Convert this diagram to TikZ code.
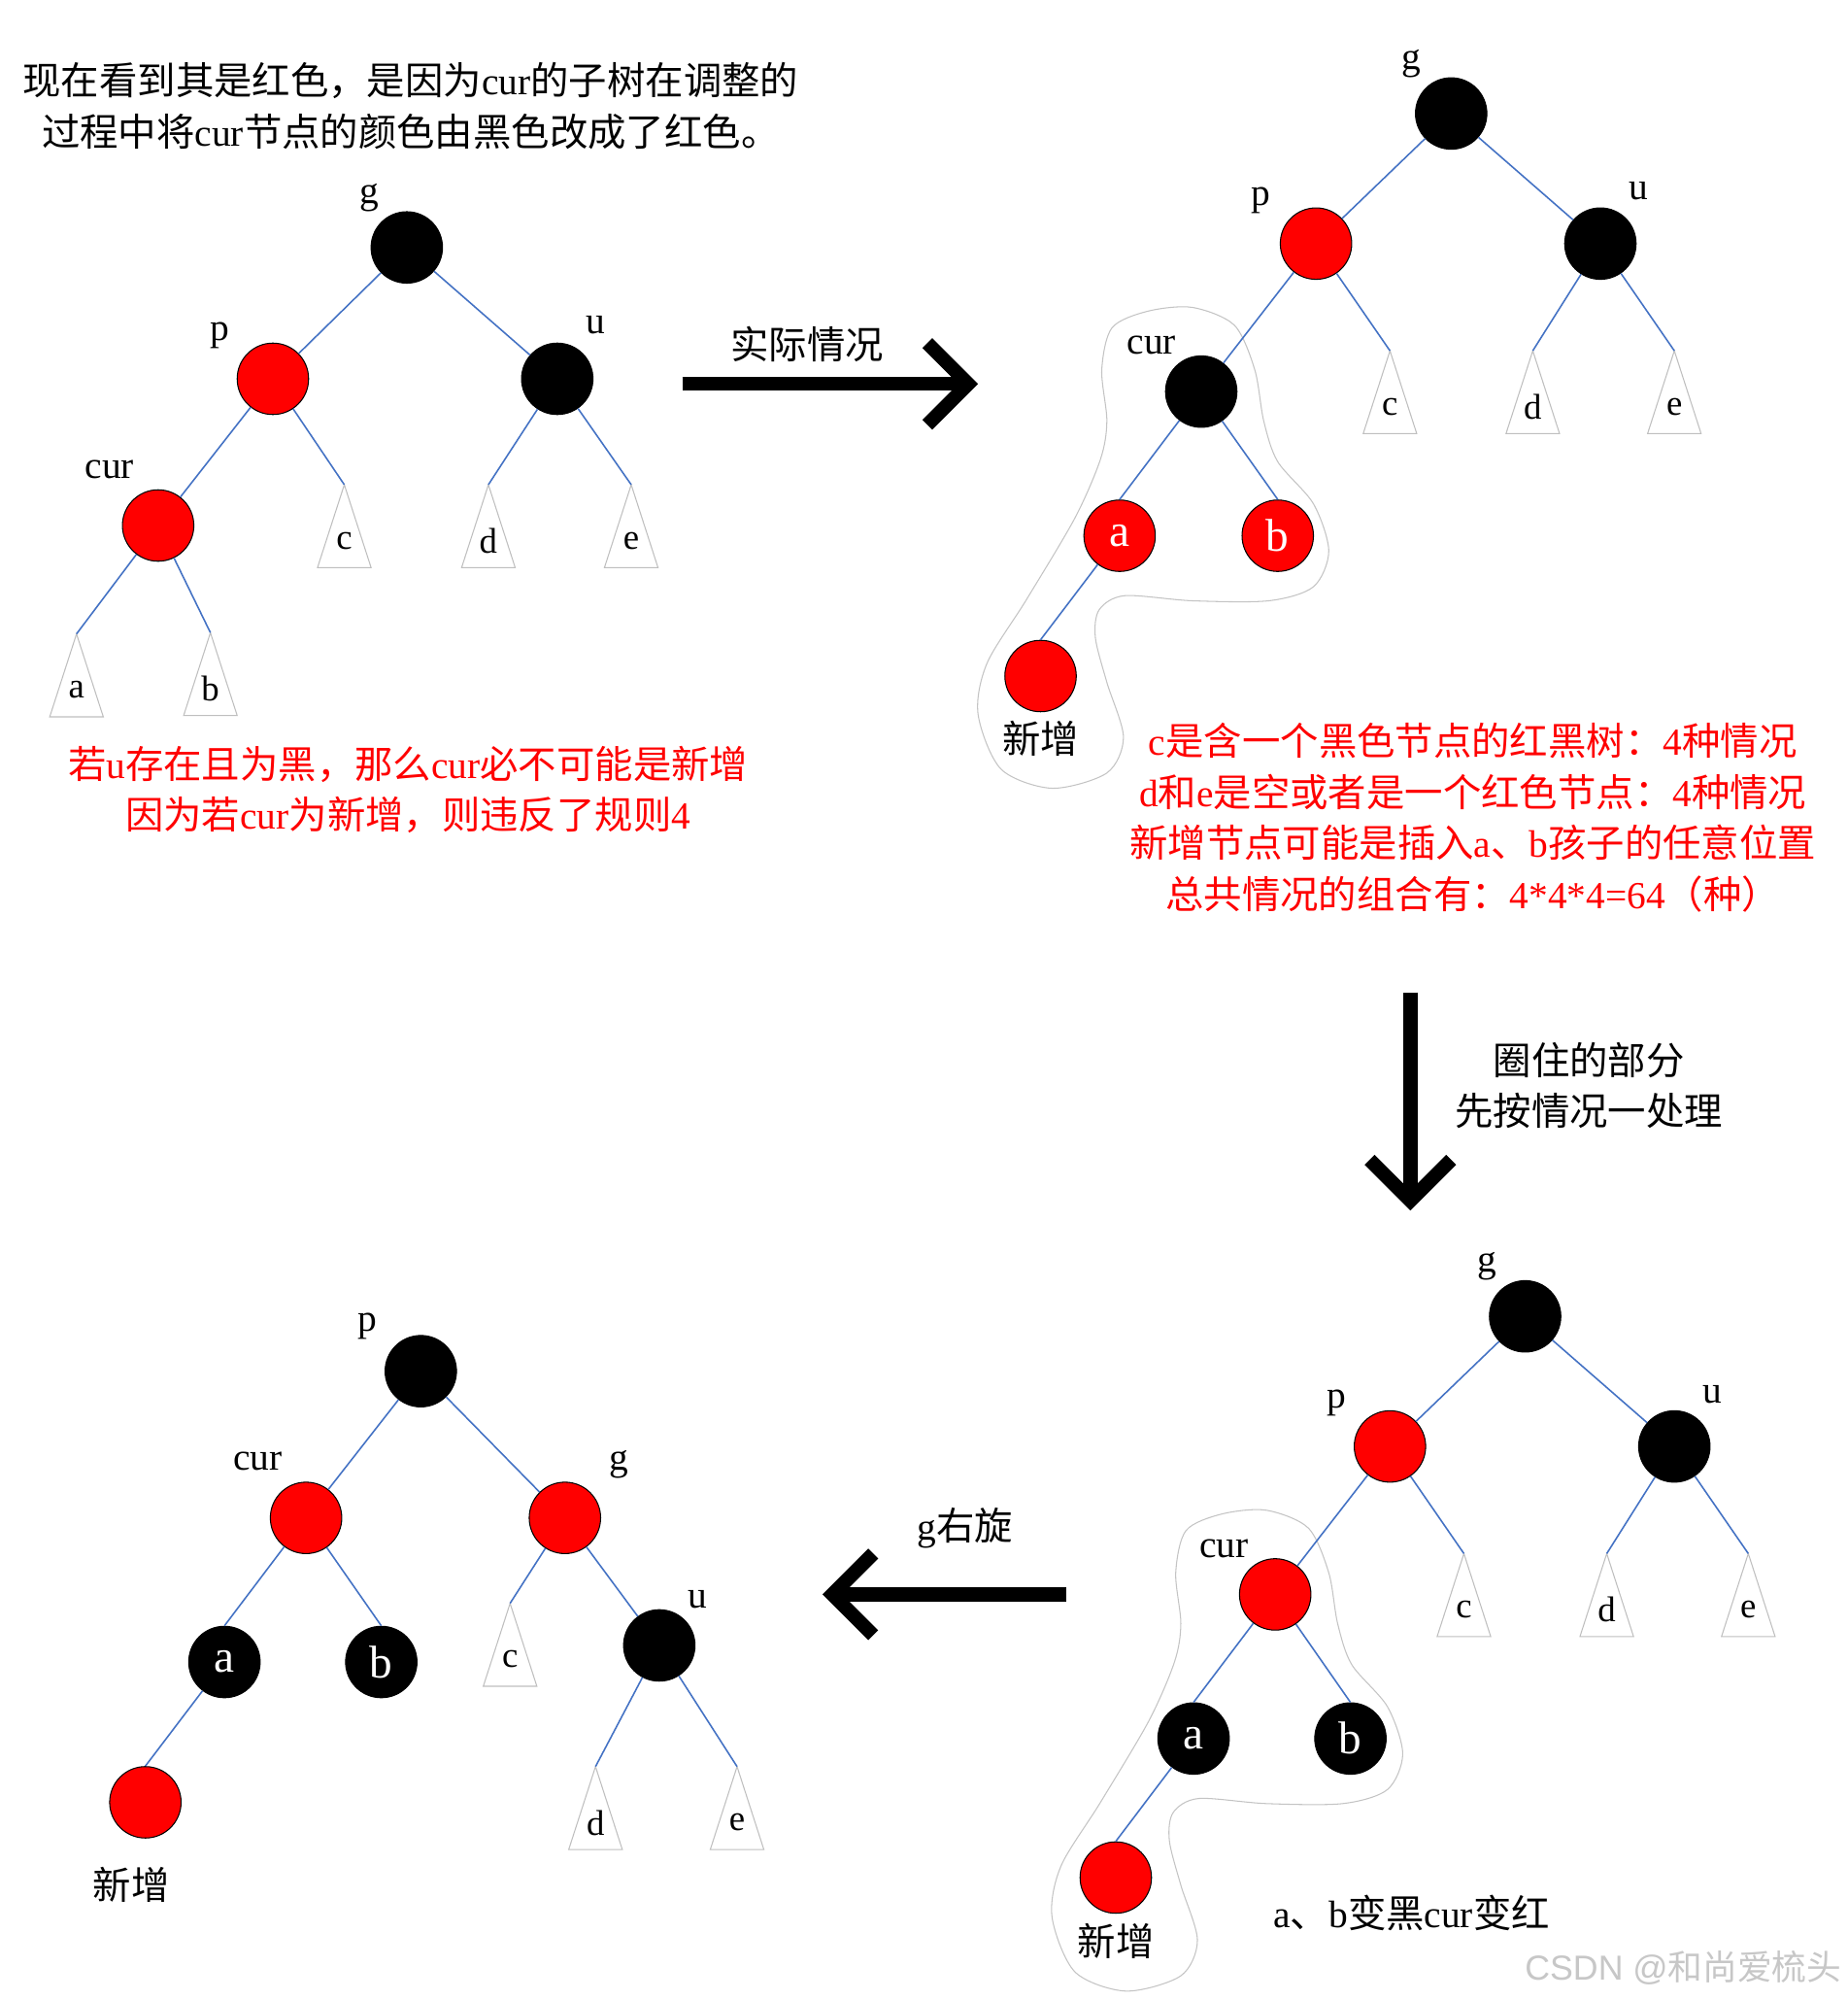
\documentclass[tikz,border=0pt]{standalone}
\usepackage{fontspec}
\setmainfont{Liberation Serif}
\newfontfamily\cjk{Noto Sans CJK SC}
\newfontfamily\wmfont{Liberation Sans}
\newcommand{\zh}[1]{{\cjk #1}}
\usepackage{tikz}
\usetikzlibrary{arrows.meta}
\definecolor{linkblue}{HTML}{4472C4}
\definecolor{trigray}{HTML}{BFBFBF}
\definecolor{blobgray}{HTML}{C4C4C4}

\begin{document}
\begin{tikzpicture}[x=0.5pt, y=-0.5pt, font=\fontsize{15}{20}\selectfont,
    rbnode/.style={circle, draw=black, line width=0.4pt, minimum size=28pt, inner sep=0pt,
      text=white, font=\fontsize{18}{18}\selectfont},
    rednode/.style={rbnode, fill=red},
    blknode/.style={rbnode, fill=black},
    link/.style={draw=linkblue, line width=0.6pt},
    tri/.style={draw=trigray, line width=0.4pt},
    trilbl/.style={inner sep=0pt, font=\fontsize{14}{14}\selectfont},
    lbl/.style={inner sep=0pt},
    blob/.style={draw=blobgray, line width=0.4pt},
    note/.style={align=center, text=red, inner sep=0pt},
    bigarrow/.style={line width=5.5pt, -{Straight Barb[length=16pt, width=32pt]}}]
    \fill[white] (0,0) rectangle (1449,1568);
    \useasboundingbox (0,0) rectangle (1449,1568);

    % subtrees c, d, e, a, b
    \foreach \n/\x/\y/\t in {Ac/270/380/c, Ad/383/380/d, Ae/495/380/e, Aa/60/497/a, Ab/165/496/b,
        Bc/1090/275/c, Bd/1202/275/d, Be/1313/275/e,
        Cc/1148/1218/c, Cd/1260/1218/d, Ce/1371/1218/e,
        Dc/400/1257/c, Dd/467/1385/d, De/578/1385/e} {
      \coordinate (\n) at (\x,\y);
      \draw[tri] (\n) -- ++(-21,65) -- ++(42,0) -- cycle;
      \node[trilbl] (\n-t) at (\x,\y+44) {\t};
    }

    % circled part
    \foreach \dx/\dy in {0/0, 58/943} {
      \draw[blob, shift={(\dx,\dy)}] plot[smooth cycle] coordinates {
        (935,241) (968,255) (984,290) (991,330) (1002,362) (1030,395) (1042,432)
        (1030,460) (995,471) (935,471) (882,467) (862,478) (859,500) (868,535)
        (881,578) (868,606) (825,618) (785,603) (767,560) (774,520) (805,470)
        (843,406) (863,360) (868,330) (864,290) (872,257) (900,244)};
    }

    % top left tree
    \node[align=center, inner sep=0pt] (intro) at (322,83)
      {\zh{现在看到其是红色，是因为}cur\zh{的子树在调整的}\\
       \zh{过程中将}cur\zh{节点的颜色由黑色改成了红色。}};
    \node[blknode] (Ag) at (319,194) {};
    \node[rednode] (Ap) at (214,297) {};
    \node[blknode] (Au) at (437,297) {};
    \node[rednode] (Acur) at (124,412) {};
    \node[lbl] (Ag-l) at (290,155) {g};
    \node[lbl] (Ap-l) at (172,263) {p};
    \node[lbl] (Au-l) at (467,255) {u};
    \node[lbl] (Acur-l) at (86,368) {cur};
    \draw[link] (Ag) -- (Ap);
    \draw[link] (Ag) -- (Au);
    \draw[link] (Ap) -- (Acur);
    \draw[link] (Ap) -- (Ac);
    \draw[link] (Au) -- (Ad);
    \draw[link] (Au) -- (Ae);
    \draw[link] (Acur) -- (Aa);
    \draw[link] (Acur) -- (Ab);
    \node[note] (Anote) at (320,619)
      {\zh{若}u\zh{存在且为黑，那么}cur\zh{必不可能是新增}\\
       \zh{因为若}cur\zh{为新增，则违反了规则}4};

    % top right tree
    \node[blknode] (Bg) at (1138,89) {};
    \node[rednode] (Bp) at (1032,191) {};
    \node[blknode] (Bu) at (1255,191) {};
    \node[blknode] (Bcur) at (942,307) {};
    \node[rednode] (Ba) at (878,420) {a};
    \node[rednode] (Bb) at (1002,420) {b};
    \node[rednode] (Bnew) at (816,530) {};
    \node[lbl] (Bg-l) at (1107,50) {g};
    \node[lbl] (Bp-l) at (989,157) {p};
    \node[lbl] (Bu-l) at (1285,150) {u};
    \node[lbl] (Bcur-l) at (903,271) {cur};
    \node[lbl] (Bnew-l) at (816,579) {\zh{新增}};
    \draw[link] (Bg) -- (Bp);
    \draw[link] (Bg) -- (Bu);
    \draw[link] (Bp) -- (Bcur);
    \draw[link] (Bp) -- (Bc);
    \draw[link] (Bu) -- (Bd);
    \draw[link] (Bu) -- (Be);
    \draw[link] (Bcur) -- (Ba.north);
    \draw[link] (Bcur) -- (Bb.north);
    \draw[link] (Ba) -- (Bnew.north);
    \node[note] (Bnote) at (1155,641)
      {c\zh{是含一个黑色节点的红黑树：}4\zh{种情况}\\
       d\zh{和}e\zh{是空或者是一个红色节点：}4\zh{种情况}\\
       \zh{新增节点可能是插入}a\zh{、}b\zh{孩子的任意位置}\\
       \zh{总共情况的组合有：}4*4*4=64\zh{（种）}};

    % bottom right tree
    \node[blknode] (Cg) at (1196,1032) {};
    \node[rednode] (Cp) at (1090,1134) {};
    \node[blknode] (Cu) at (1313,1134) {};
    \node[rednode] (Ccur) at (1000,1250) {};
    \node[blknode] (Ca) at (936,1363) {a};
    \node[blknode] (Cb) at (1059,1363) {b};
    \node[rednode] (Cnew) at (875,1472) {};
    \node[lbl] (Cg-l) at (1166,993) {g};
    \node[lbl] (Cp-l) at (1048,1100) {p};
    \node[lbl] (Cu-l) at (1343,1093) {u};
    \node[lbl] (Ccur-l) at (960,1214) {cur};
    \node[lbl] (Cnew-l) at (875,1522) {\zh{新增}};
    \draw[link] (Cg) -- (Cp);
    \draw[link] (Cg) -- (Cu);
    \draw[link] (Cp) -- (Ccur);
    \draw[link] (Cp) -- (Cc);
    \draw[link] (Cu) -- (Cd);
    \draw[link] (Cu) -- (Ce);
    \draw[link] (Ccur) -- (Ca.north);
    \draw[link] (Ccur) -- (Cb.north);
    \draw[link] (Ca) -- (Cnew.north);
    \node[lbl] (Cnote) at (1107,1500) {a\zh{、}b\zh{变黑}cur\zh{变红}};

    % bottom left tree
    \node[blknode] (Dp) at (330,1075) {};
    \node[rednode] (Dcur) at (240,1190) {};
    \node[rednode] (Dg) at (443,1190) {};
    \node[blknode] (Da) at (176,1303) {a};
    \node[blknode] (Db) at (299,1303) {b};
    \node[rednode] (Dnew) at (114,1413) {};
    \node[blknode] (Du) at (517,1290) {};
    \node[lbl] (Dp-l) at (288,1040) {p};
    \node[lbl] (Dcur-l) at (202,1146) {cur};
    \node[lbl] (Dg-l) at (485,1148) {g};
    \node[lbl] (Du-l) at (547,1254) {u};
    \node[lbl] (Dnew-l) at (103,1478) {\zh{新增}};
    \draw[link] (Dp) -- (Dcur);
    \draw[link] (Dp) -- (Dg);
    \draw[link] (Dcur) -- (Da.north);
    \draw[link] (Dcur) -- (Db.north);
    \draw[link] (Da) -- (Dnew.north);
    \draw[link] (Dg) -- (Dc);
    \draw[link] (Dg) -- (Du);
    \draw[link] (Du) -- (Dd);
    \draw[link] (Du) -- (De);

    % steps between the trees
    \coordinate (s1a) at (535,301);
    \coordinate (s1b) at (767,301);
    \coordinate (s2a) at (1106,778);
    \coordinate (s2b) at (1106,949);
    \coordinate (s3a) at (836,1250);
    \coordinate (s3b) at (645,1250);
    \draw[bigarrow] (s1a) -- (s1b);
    \draw[bigarrow] (s2a) -- (s2b);
    \draw[bigarrow] (s3a) -- (s3b);
    \node[lbl] (s1-l) at (633,270) {\zh{实际情况}};
    \node[lbl, align=center] (s2-l) at (1246,851) {\zh{圈住的部分}\\\zh{先按情况一处理}};
    \node[lbl] (s3-l) at (757,1198) {g\zh{右旋}};

    \node[lbl, text=black!22, font=\fontsize{13.6}{14}\selectfont\wmfont] (wm) at (1320,1543)
      {CSDN @\zh{和尚爱梳头}};
  \end{tikzpicture}
\end{document}
